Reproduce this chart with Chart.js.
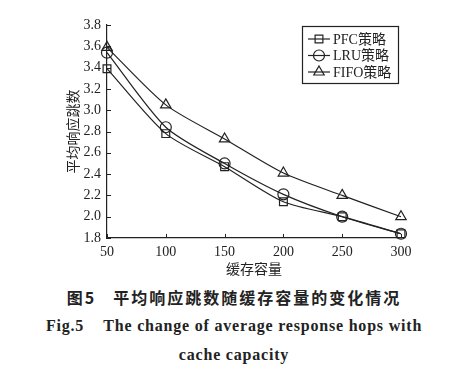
<!DOCTYPE html>
<html>
<head>
<meta charset="utf-8">
<script src="https://cdn.jsdelivr.net/npm/chart.js@4/dist/chart.umd.min.js"></script>
<style>
  body { margin: 0; background: #fff; }
  #wrap { position: relative; width: 468px; height: 378px; }
  #box { position: absolute; left: 0; top: 0; width: 468px; height: 282px; }
  .cap { position: absolute; left: 0; width: 468px; text-align: center; color: #222; white-space: nowrap; font-weight: bold; }
  #cap1 { top: 285px; font-family: "Noto Sans CJK SC", sans-serif; font-size: 16px; letter-spacing: 2px; }
  #cap2 { top: 317px; font-family: "Liberation Serif", serif; font-size: 16px; letter-spacing: 0.8px; }
  #cap3 { top: 346px; font-family: "Liberation Serif", serif; font-size: 16px; letter-spacing: 0.8px; }
</style>
</head>
<body>
<div id="wrap">
  <div id="box"><canvas id="grafico"></canvas></div>
  <div class="cap" id="cap1">图5&nbsp;&nbsp;&nbsp;平均响应跳数随缓存容量的变化情况</div>
  <div class="cap" id="cap2">Fig.5&nbsp;&nbsp;&nbsp;&nbsp;The change of average response hops with</div>
  <div class="cap" id="cap3">cache capacity</div>
</div>
<script>
const capacidade = [50, 100, 150, 200, 250, 300];
const pfc = [3.39, 2.78, 2.47, 2.14, 2.00, 1.84];
const lru = [3.54, 2.84, 2.50, 2.21, 2.00, 1.84];
const fifo = [3.59, 3.05, 2.73, 2.41, 2.20, 2.00];
const nomes = ['PFC策略', 'LRU策略', 'FIFO策略'];
const marcadores = ['rect', 'circle', 'triangle'];

const serie = (vals) => capacidade.map((x, i) => ({ x: x, y: vals[i] }));

// ticks para dentro do gráfico
const ticksDentro = {
    id: 'ticksDentro',
    afterDraw(chart) {
        const ctx = chart.ctx;
        const sx = chart.scales.x;
        const sy = chart.scales.y;
        ctx.save();
        ctx.strokeStyle = '#222';
        ctx.lineWidth = 1;
        ctx.beginPath();
        sy.ticks.forEach(t => {
            const y = Math.round(sy.getPixelForValue(t.value)) + 0.5;
            ctx.moveTo(sx.left, y);
            ctx.lineTo(sx.left + 4, y);
        });
        sx.ticks.forEach(t => {
            const x = Math.round(sx.getPixelForValue(t.value)) + 0.5;
            ctx.moveTo(x, sy.bottom);
            ctx.lineTo(x, sy.bottom - 4);
        });
        ctx.stroke();
        ctx.restore();
    }
};

// legenda com linha e marcador
const legenda = {
    id: 'legenda',
    afterDraw(chart) {
        const ctx = chart.ctx;
        const x0 = 302, y0 = 26, w = 96, h = 57;
        ctx.save();
        ctx.fillStyle = '#fff';
        ctx.fillRect(x0, y0, w, h);
        ctx.strokeStyle = '#222';
        ctx.lineWidth = 1.2;
        ctx.strokeRect(x0 + 0.5, y0 + 0.5, w, h);
        chart.data.datasets.forEach((ds, i) => {
            const y = y0 + 13 + i * 16.5;
            ctx.strokeStyle = '#222';
            ctx.lineWidth = 1.2;
            ctx.beginPath();
            ctx.moveTo(x0 + 6, y);
            ctx.lineTo(x0 + 28, y);
            ctx.stroke();
            ctx.fillStyle = 'rgba(0,0,0,0)';
            Chart.helpers.drawPoint(ctx, {
                pointStyle: ds.pointStyle,
                radius: ds.pointRadius,
                rotation: 0,
                borderWidth: 1.2
            }, x0 + 17, y);
            ctx.fillStyle = '#222';
            ctx.font = '14px "Liberation Serif", "Noto Sans CJK SC", serif';
            ctx.textBaseline = 'middle';
            ctx.textAlign = 'left';
            ctx.fillText(ds.label, x0 + 31, y + 1);
        });
        ctx.restore();
    }
};

const ctx = document.getElementById('grafico').getContext('2d');
new Chart(ctx, {
    type: 'line',
    data: {
        datasets: [pfc, lru, fifo].map((vals, i) => ({
            label: nomes[i],
            data: serie(vals),
            borderColor: '#222',
            borderWidth: 1.2,
            backgroundColor: 'rgba(0,0,0,0)',
            pointStyle: marcadores[i],
            pointRadius: i === 2 ? 6 : 5.5,
            pointBorderColor: '#222',
            pointBorderWidth: 1.2,
            pointBackgroundColor: 'rgba(0,0,0,0)',
            tension: 0.25,
            fill: false,
            clip: false
        }))
    },
    options: {
        animation: false,
        responsive: true,
        maintainAspectRatio: false,
        layout: { padding: { left: 64, top: 25, right: 67, bottom: 2 } },
        plugins: {
            legend: { display: false },
            tooltip: { enabled: false }
        },
        scales: {
            x: {
                type: 'linear',
                min: 50,
                max: 300,
                afterFit(s) { s.height = 42; },
                ticks: {
                    stepSize: 50,
                    color: '#222',
                    padding: 6,
                    font: { family: '"Liberation Serif", serif', size: 14 }
                },
                grid: { drawOnChartArea: false, drawTicks: false },
                border: { color: '#222', width: 1.2 },
                title: {
                    display: true,
                    text: '缓存容量',
                    color: '#222',
                    padding: { top: 0, bottom: 3 },
                    font: { family: '"Noto Sans CJK SC", sans-serif', size: 14 }
                }
            },
            y: {
                min: 1.8,
                max: 3.8,
                afterFit(s) { s.width = 43; },
                ticks: {
                    stepSize: 0.2,
                    color: '#222',
                    padding: 6,
                    font: { family: '"Liberation Serif", serif', size: 14 },
                    callback: v => Number(v).toFixed(1)
                },
                grid: { drawOnChartArea: false, drawTicks: false },
                border: { color: '#222', width: 1.2 },
                title: {
                    display: true,
                    text: '平均响应跳数',
                    color: '#222',
                    padding: 0,
                    font: { family: '"Noto Sans CJK SC", sans-serif', size: 14 }
                }
            }
        }
    },
    plugins: [ticksDentro, legenda]
});
</script>
</body>
</html>
